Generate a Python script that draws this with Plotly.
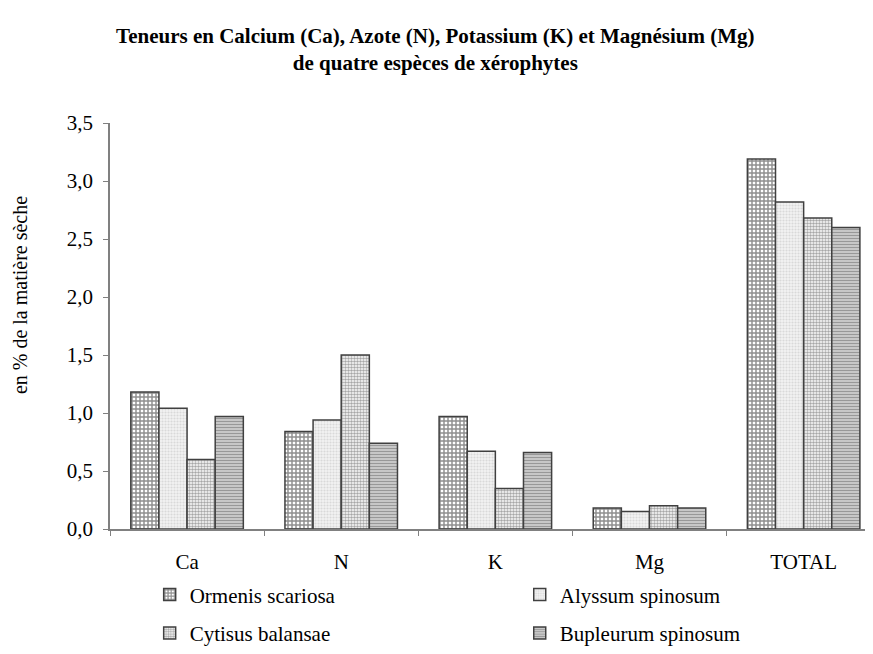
import plotly.graph_objects as go

categories = ["Ca", "N", "K", "Mg", "TOTAL"]
ormenis = [1.18, 0.84, 0.97, 0.18, 3.19]
alyssum = [1.04, 0.94, 0.67, 0.15, 2.82]
cytisus = [0.60, 1.50, 0.35, 0.20, 2.68]
bupleurum = [0.97, 0.74, 0.66, 0.18, 2.60]
series_names = ["Ormenis scariosa", "Alyssum spinosum", "Cytisus balansae", "Bupleurum spinosum"]
y_ticks = [0, 0.5, 1.0, 1.5, 2.0, 2.5, 3.0, 3.5]
y_title = "en % de la matière sèche"

font_family = "Liberation Serif"

patterns = [
    dict(shape="+", fgcolor="#202020", bgcolor="#ffffff", size=4, solidity=0.6),
    dict(shape=".", fgcolor="#c0c0c0", bgcolor="#f2f2f2", size=3, solidity=0.4),
    dict(shape=".", fgcolor="#505050", bgcolor="#ffffff", size=3, solidity=0.55),
    dict(shape="-", fgcolor="#606060", bgcolor="#d0d0d0", size=3, solidity=0.45),
]
legends = ["legend", "legend2", "legend", "legend2"]

fig = go.Figure()
for name, vals, pat, lg in zip(series_names, [ormenis, alyssum, cytisus, bupleurum], patterns, legends):
    fig.add_trace(go.Bar(
        x=categories, y=vals, name=name, legend=lg, legendgroup=name,
        marker=dict(color="#ffffff", pattern=pat,
                    line=dict(color="#404040", width=1.5)),
    ))

legend_common = dict(
    orientation="v", xanchor="left", y=-0.112, yanchor="top",
    font=dict(family=font_family, size=21, color="black"),
    itemwidth=30, tracegroupgap=8, bgcolor="rgba(0,0,0,0)",
)

fig.update_layout(
    width=865, height=646,
    paper_bgcolor="white", plot_bgcolor="white",
    separators=", ",
    font=dict(family=font_family, size=21, color="black"),
    title=dict(
        text="<b>Teneurs en Calcium (Ca), Azote (N), Potassium (K) et Magnésium (Mg)<br>de quatre espèces de xérophytes</b>",
        x=0.494, xanchor="center", y=0.946, yanchor="top",
        font=dict(family=font_family, size=21, color="black"),
        xref="container", yref="container",
    ),
    barmode="group", bargap=0.27, bargroupgap=0,
    margin=dict(l=102, r=0, t=115, b=121),
    showlegend=True,
    legend=dict(x=0.052, **legend_common),
    legend2=dict(x=0.537, **legend_common),
    xaxis=dict(
        type="category", range=[-0.5, 4.45], automargin=False,
        showline=True, linecolor="#808080", linewidth=1.5,
        ticks="outside", tickson="boundaries", ticklen=5, tickcolor="#808080",
        tickfont=dict(family=font_family, size=21, color="black"),
        ticklabelstandoff=13,
        showgrid=False, zeroline=False,
    ),
    yaxis=dict(
        range=[0, 3.5], tickvals=y_ticks, tickformat=".1f", automargin=False,
        showline=True, linecolor="#808080", linewidth=1.5,
        ticks="outside", ticklen=5, tickcolor="#808080",
        tickfont=dict(family=font_family, size=21, color="black"),
        ticklabelstandoff=6,
        showgrid=False, zeroline=False,
    ),
    annotations=[dict(
        text=y_title, textangle=-90, showarrow=False,
        xref="paper", yref="paper", x=-0.118, y=0.576,
        xanchor="center", yanchor="middle",
        font=dict(family=font_family, size=20, color="black"),
    )],
)

fig.write_html("out.html")
